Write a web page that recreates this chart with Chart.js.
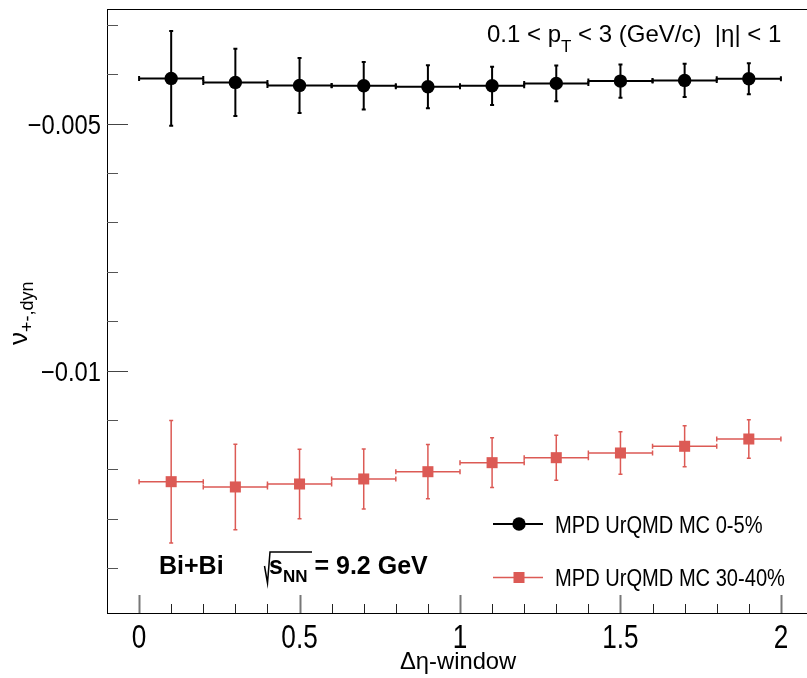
<!DOCTYPE html>
<html lang="en">
<head>
  <meta charset="UTF-8">
  <title>nu dyn vs eta window</title>
  <script src="https://cdn.jsdelivr.net/npm/chart.js"></script>
  <style>
    body { margin: 0; background: #fff; overflow: hidden; }
    #wrap { width: 807px; height: 678px; overflow: hidden; position: relative; }
  </style>
</head>
<body>
  <div id="wrap"><canvas id="nuChart" width="830" height="678"></canvas></div>

  <script>
    // bin centres of the delta-eta window, half bin width = horizontal error
    const binCenters = [0.1, 0.3, 0.5, 0.7, 0.9, 1.1, 1.3, 1.5, 1.7, 1.9];
    const binHalfWidth = 0.1;

    // MPD UrQMD MC 0-5%
    const nu0005 = [-0.004085, -0.004166, -0.004227, -0.004235, -0.004255, -0.004235, -0.004186, -0.004140, -0.004126, -0.004093];
    const err0005 = [0.000961, 0.000682, 0.000557, 0.000482, 0.000435, 0.000388, 0.000360, 0.000338, 0.000338, 0.000314];

    // MPD UrQMD MC 30-40%
    const nu3040 = [-0.012251, -0.012358, -0.012298, -0.012196, -0.012049, -0.011866, -0.011765, -0.011670, -0.011534, -0.011387];
    const err3040 = [0.001240, 0.000864, 0.000705, 0.000607, 0.000550, 0.000502, 0.000455, 0.000431, 0.000415, 0.000391];

    const xTicks = [0, 0.5, 1, 1.5, 2];
    const xTickLabels = ['0', '0.5', '1', '1.5', '2'];
    const yTicks = [-0.01, -0.005];
    const yTickLabels = ['\u22120.01', '\u22120.005'];

    const RED = '#dc5a55';
    const FONT = "'Liberation Sans', Arial, sans-serif";

    // text squeezed horizontally, the ROOT fonts look narrow in the original
    function squeezed(ctx, text, x, y, font, sx, align) {
      ctx.save();
      ctx.font = font;
      ctx.translate(x, y);
      ctx.scale(sx, 1);
      ctx.textAlign = align || 'left';
      ctx.fillText(text, 0, 0);
      ctx.restore();
    }

    function drawParts(ctx, parts, x, y, sx) {
      sx = sx || 1;
      parts.forEach(p => {
        squeezed(ctx, p.t, x, y + (p.dy || 0), p.font, sx);
        ctx.font = p.font;
        x += ctx.measureText(p.t).width * sx + (p.gap || 0);
      });
      return x;
    }

    const errorBars = {
      id: 'errorBars',
      beforeDatasetsDraw(chart) {
        const ctx = chart.ctx;
        const xs = chart.scales.x, ys = chart.scales.y;
        chart.data.datasets.forEach(ds => {
          ctx.save();
          ctx.strokeStyle = ds.barColor;
          ctx.lineWidth = ds.barWidth;
          ds.data.forEach((pt, i) => {
            const px = xs.getPixelForValue(pt.x);
            const py = ys.getPixelForValue(pt.y);
            const x1 = xs.getPixelForValue(pt.x - binHalfWidth);
            const x2 = xs.getPixelForValue(pt.x + binHalfWidth);
            const yTop = ys.getPixelForValue(pt.y + ds.errY[i]);
            const yBot = ys.getPixelForValue(pt.y - ds.errY[i]);
            ctx.beginPath();
            ctx.moveTo(x1, py); ctx.lineTo(x2, py);
            ctx.moveTo(px, yTop); ctx.lineTo(px, yBot);
            // end caps
            ctx.moveTo(x1, py - 2.5); ctx.lineTo(x1, py + 2.5);
            ctx.moveTo(x2, py - 2.5); ctx.lineTo(x2, py + 2.5);
            ctx.moveTo(px - 2, yTop); ctx.lineTo(px + 2, yTop);
            ctx.moveTo(px - 2, yBot); ctx.lineTo(px + 2, yBot);
            ctx.stroke();
          });
          ctx.restore();
        });
      }
    };

    const frameAndText = {
      id: 'frameAndText',
      afterDatasetsDraw(chart) {
        const ctx = chart.ctx;
        const a = chart.chartArea;
        const xs = chart.scales.x, ys = chart.scales.y;
        ctx.save();

        // frame
        ctx.strokeStyle = '#000';
        ctx.lineWidth = 1;
        ctx.strokeRect(a.left + 0.5, a.top + 0.5, a.right - a.left, a.bottom - a.top);

        // y ticks, drawn inside the frame
        for (let k = 3; k <= 14; k++) {
          const v = -k / 1000;
          const y = Math.round(ys.getPixelForValue(v)) + 0.5;
          const major = k % 5 === 0;
          ctx.strokeStyle = major ? '#444' : '#555';
          ctx.lineWidth = 1;
          ctx.beginPath();
          ctx.moveTo(a.left, y);
          ctx.lineTo(a.left + (major ? 21 : 11), y);
          ctx.stroke();
        }
        // x ticks
        for (let k = 0; k <= 20; k++) {
          const v = k / 10;
          const x = Math.round(xs.getPixelForValue(v)) + 0.5;
          const major = k % 5 === 0;
          ctx.strokeStyle = major ? '#777' : '#222';
          ctx.lineWidth = major ? 2 : 1;
          ctx.beginPath();
          ctx.moveTo(x, a.bottom);
          ctx.lineTo(x, a.bottom - (major ? 18 : 9));
          ctx.stroke();
        }

        ctx.fillStyle = '#000';
        ctx.textBaseline = 'alphabetic';

        // tick labels
        xTicks.forEach((v, i) => {
          squeezed(ctx, xTickLabels[i], xs.getPixelForValue(v), a.bottom + 35, '34px ' + FONT, 0.77, 'center');
        });
        yTicks.forEach((v, i) => {
          squeezed(ctx, yTickLabels[i], a.left - 6, ys.getPixelForValue(v) + 10, '27px ' + FONT, 0.88, 'right');
        });

        // kinematic cuts
        drawParts(ctx, [
          { t: '0.1 < p', font: '24px ' + FONT },
          { t: 'T', font: '17px ' + FONT, dy: 10 },
          { t: ' < 3 (GeV/c)  |\u03b7| < 1', font: '24px ' + FONT }
        ], 487, 42, 1.0);

        // system
        ctx.textAlign = 'left';
        ctx.font = 'bold 25px ' + FONT;
        ctx.fillText('Bi+Bi', 159, 574);
        ctx.lineWidth = 1.5;
        ctx.strokeStyle = '#000';
        ctx.beginPath();
        ctx.moveTo(264.5, 566); ctx.lineTo(267.5, 583);
        ctx.lineTo(270, 552); ctx.lineTo(312, 552);
        ctx.stroke();
        drawParts(ctx, [
          { t: 's', font: 'bold 25px ' + FONT },
          { t: 'NN', font: 'bold 17px ' + FONT, dy: 8, gap: 7 },
          { t: '= 9.2 GeV', font: 'bold 25px ' + FONT }
        ], 269, 574);

        // legend
        ctx.lineWidth = 2;
        ctx.strokeStyle = '#000';
        ctx.beginPath(); ctx.moveTo(493, 524); ctx.lineTo(543, 524); ctx.stroke();
        ctx.beginPath(); ctx.arc(519, 524, 6.7, 0, Math.PI * 2); ctx.fill();
        ctx.lineWidth = 1.5;
        ctx.strokeStyle = RED;
        ctx.beginPath(); ctx.moveTo(493, 577.5); ctx.lineTo(543, 577.5); ctx.stroke();
        ctx.fillStyle = RED;
        ctx.fillRect(513.5, 572, 11, 11);
        ctx.fillStyle = '#000';
        squeezed(ctx, 'MPD UrQMD MC 0-5%', 555, 533, '24.5px ' + FONT, 0.82);
        squeezed(ctx, 'MPD UrQMD MC 30-40%', 555, 586, '24.5px ' + FONT, 0.82);

        // axis titles
        squeezed(ctx, '\u0394\u03b7-window', 400, 669, '24px ' + FONT, 0.99);

        ctx.save();
        ctx.translate(27, 345);
        ctx.rotate(-Math.PI / 2);
        drawParts(ctx, [
          { t: '\u03bd', font: '26px ' + FONT },
          { t: '+-,dyn', font: '18px ' + FONT, dy: 6 }
        ], 0, 0);
        ctx.restore();

        ctx.restore();
      }
    };

    new Chart(document.getElementById('nuChart'), {
      type: 'scatter',
      data: {
        datasets: [
          {
            label: 'MPD UrQMD MC 0-5%',
            data: binCenters.map((x, i) => ({ x: x, y: nu0005[i] })),
            errY: err0005,
            barColor: '#000',
            barWidth: 2,
            pointStyle: 'circle',
            pointRadius: 6.7,
            backgroundColor: '#000',
            borderColor: '#000',
            borderWidth: 0
          },
          {
            label: 'MPD UrQMD MC 30-40%',
            data: binCenters.map((x, i) => ({ x: x, y: nu3040[i] })),
            errY: err3040,
            barColor: RED,
            barWidth: 1.5,
            pointStyle: 'rect',
            pointRadius: 7.8,
            backgroundColor: RED,
            borderColor: RED,
            borderWidth: 0
          }
        ]
      },
      options: {
        responsive: false,
        animation: false,
        layout: { padding: { top: 9, right: 17, left: 0, bottom: 0 } },
        plugins: { legend: { display: false }, tooltip: { enabled: false } },
        scales: {
          x: {
            type: 'linear',
            min: -0.1,
            max: 2.1,
            afterFit(s) { s.height = 65; s.paddingLeft = 0; s.paddingRight = 0; },
            afterBuildTicks(s) { s.ticks = xTicks.map(v => ({ value: v })); },
            grid: { display: false },
            border: { display: false },
            ticks: { display: false }
          },
          y: {
            type: 'linear',
            min: -0.01491,
            max: -0.00268,
            afterFit(s) { s.width = 107; s.paddingTop = 0; s.paddingBottom = 0; },
            afterBuildTicks(s) { s.ticks = yTicks.map(v => ({ value: v })); },
            grid: { display: false },
            border: { display: false },
            ticks: { display: false }
          }
        }
      },
      plugins: [errorBars, frameAndText]
    });
  </script>
</body>
</html>
